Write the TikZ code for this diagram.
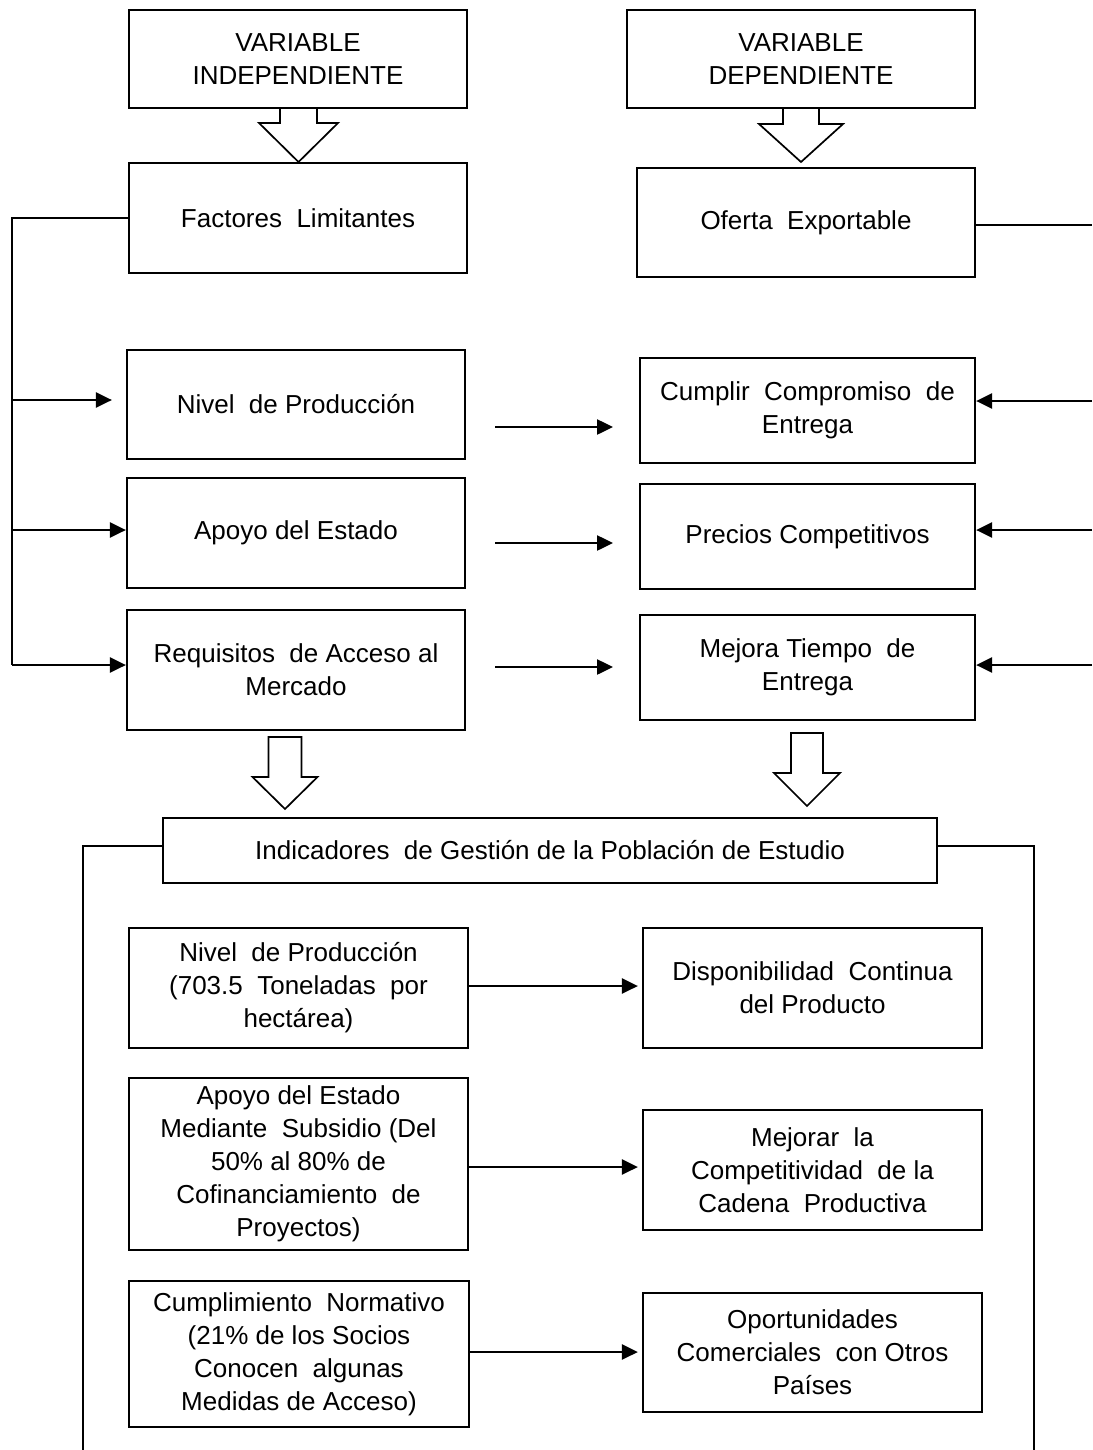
\documentclass[tikz,border=0pt]{standalone}
\usepackage{fontspec}
\setmainfont{Liberation Sans}
\usetikzlibrary{arrows.meta,calc}
\tikzset{
  box/.style={draw=black, line width=2.2pt, fill=white, inner sep=0pt, align=center,
    font=\fontsize{26}{33}\selectfont},
  conn/.style={draw=black, line width=2.5pt},
  arr/.style={conn, -{Triangle[length=16pt,width=15pt]}},
  blockarrow/.style={draw=black, line width=1.7pt, fill=white, line join=miter}
}
% center x, top y, shaft half width, head half width, head base y, tip y
\newcommand\mybigarrow[6]{%
  \draw[blockarrow] (#1-#3,#2) -- (#1+#3,#2) -- (#1+#3,#5) -- (#1+#4,#5) -- (#1,#6)
    -- (#1-#4,#5) -- (#1-#3,#5) -- cycle;}
\begin{document}
\begin{tikzpicture}[x=1pt,y=-1pt]
\useasboundingbox (0,0) rectangle (1092,1450);
\fill[white] (0,0) rectangle (1092,1450);

% top row
\node[box, minimum width=338pt, minimum height=98pt] (vi) at (298,59) {VARIABLE\\INDEPENDIENTE};
\node[box, minimum width=348pt, minimum height=98pt] (vd) at (801,59) {VARIABLE\\DEPENDIENTE};
\node[box, minimum width=338pt, minimum height=110pt] (fl) at (298,218) {Factores\ \ Limitantes};
\node[box, minimum width=338pt, minimum height=109pt] (oe) at (806,222.5) {Oferta\ \ Exportable};

\mybigarrow{298.5}{108}{18.5}{39.5}{123}{162}
\mybigarrow{801}{108}{18}{42}{124}{162}

% middle rows
\node[box, minimum width=338pt, minimum height=109pt] (np) at (296,404.5) {Nivel\ \ de Producción};
\node[box, minimum width=338pt, minimum height=110pt] (ae) at (296,533) {Apoyo del Estado};
\node[box, minimum width=338pt, minimum height=120pt] (rq) at (296,670) {Requisitos\ \ de Acceso al\\Mercado};
\node[box, minimum width=335pt, minimum height=105pt] (cc) at (807.5,410.5) {Cumplir\ \ Compromiso\ \ de\\Entrega};
\node[box, minimum width=335pt, minimum height=105pt] (pc) at (807.5,536.5) {Precios Competitivos};
\node[box, minimum width=335pt, minimum height=105pt] (mt) at (807.5,667.5) {Mejora Tiempo\ \ de\\Entrega};

% left feeder
\coordinate (Ltop) at (12,218);
\coordinate (Lbot) at (12,665);
\draw[conn] (fl.west) -- (Ltop) -- (Lbot);
\draw[arr] (12,400) -- ([xshift=-14pt]np.west |- 0,400);
\draw[arr] (12,530) -- (ae.west |- 0,530);
\draw[arr] (Lbot) -- (rq.west |- Lbot);

% right feeder
\coordinate (Rtop) at (1092,225);
\coordinate (R1) at (1092,401);
\coordinate (R2) at (1092,530);
\coordinate (R3) at (1092,665);
\draw[conn] (oe.east |- Rtop) -- (Rtop);
\draw[arr] (R1) -- (cc.east |- R1);
\draw[arr] (R2) -- (pc.east |- R2);
\draw[arr] (R3) -- (mt.east |- R3);

% middle arrows
\coordinate (m1a) at (495,427); \coordinate (m1b) at (613,427);
\coordinate (m2a) at (495,543); \coordinate (m2b) at (613,543);
\coordinate (m3a) at (495,667); \coordinate (m3b) at (613,667);
\draw[arr] (m1a) -- (m1b);
\draw[arr] (m2a) -- (m2b);
\draw[arr] (m3a) -- (m3b);

% lower block arrows
\mybigarrow{285}{737}{16.5}{32.5}{777}{809}
\mybigarrow{807}{733}{16}{33}{773}{806}

% indicators
\node[box, minimum width=774pt, minimum height=65pt] (ind) at (550,850.5) {Indicadores\ \ de Gestión de la Población de Estudio};
\coordinate (BLtop) at (83,846); \coordinate (BLbot) at (83,1452);
\coordinate (BRtop) at (1034,846); \coordinate (BRbot) at (1034,1452);
\draw[conn, line width=2.2pt] (ind.west |- BLtop) -- (BLtop) -- (BLbot);
\draw[conn, line width=2.2pt] (ind.east |- BRtop) -- (BRtop) -- (BRbot);

\node[box, minimum width=339pt, minimum height=120pt] (n2) at (298.5,988) {Nivel\ \ de Producción\\(703.5\ \ Toneladas\ \ por\\hectárea)};
\node[box, minimum width=339pt, minimum height=120pt] (d2) at (812.5,988) {Disponibilidad\ \ Continua\\del Producto};
\node[box, minimum width=339pt, minimum height=172pt] (a2) at (298.5,1164) {Apoyo del Estado\\Mediante\ \ Subsidio (Del\\50\% al 80\% de\\Cofinanciamiento\ \ de\\Proyectos)};
\node[box, minimum width=339pt, minimum height=120pt] (m2) at (812.5,1170) {Mejorar\ \ la\\Competitividad\ \ de la\\Cadena\ \ Productiva};
\node[box, minimum width=340pt, minimum height=146pt] (cn) at (299,1354) {Cumplimiento\ \ Normativo\\(21\% de los Socios\\Conocen\ \ algunas\\Medidas de Acceso)};
\node[box, minimum width=339pt, minimum height=119pt] (op) at (812.5,1352.5) {Oportunidades\\Comerciales\ \ con Otros\\Países};

\draw[arr] (n2.east |- 0,986) -- ([xshift=-4pt]d2.west |- 0,986);
\draw[arr] (a2.east |- 0,1167) -- ([xshift=-4pt]m2.west |- 0,1167);
\draw[arr] (cn.east |- 0,1352) -- ([xshift=-4pt]op.west |- 0,1352);
\end{tikzpicture}
\end{document}
